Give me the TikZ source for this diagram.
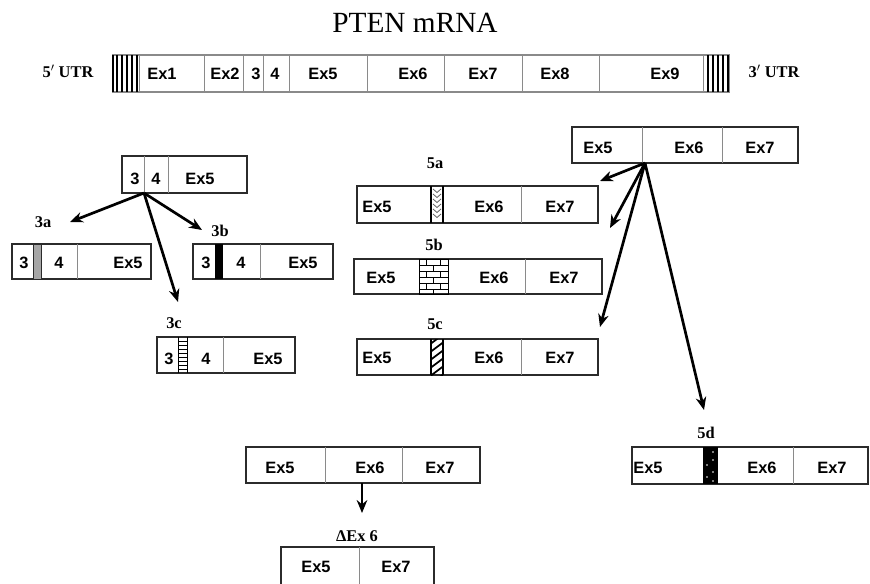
\documentclass[tikz,border=0pt]{standalone}
\usepackage{fontspec}
\setmainfont{Liberation Serif}
\setsansfont{Liberation Sans}
\usetikzlibrary{arrows.meta}
\definecolor{exline}{HTML}{2b2b2b}
\definecolor{exsep}{HTML}{8a8a8a}

\begin{document}
\begin{tikzpicture}[x=0.03cm,y=-0.03cm,
    box/.style={draw=exline,line width=1.2pt},
    sep/.style={draw=exsep,line width=0.6pt},
    ex/.style={font=\fontsize{14}{16}\selectfont\sffamily\bfseries,inner sep=0pt},
    tag/.style={font=\fontsize{14}{16}\selectfont\bfseries,inner sep=0pt},
    arr/.style={line width=2.3pt,-{Stealth[length=11pt,width=9pt]}}]
  \useasboundingbox (0,0) rectangle (870,583);

  % title
  \node[font=\fontsize{25}{28}\selectfont,anchor=base] (title) at (415,32) {PTEN mRNA};

  % whole transcript
  \node[tag] (utr5) at (68,71) {5$'$ UTR};
  \node[tag] (utr3) at (774,71) {3$'$ UTR};
  \draw[box,draw=exsep] (113,55) rectangle (729,92);
  \foreach \x in {139,204,243,263,289,367,444,522,599,703}
    \draw[sep] (\x,55) -- (\x,92);
  \foreach \x in {113,117,122,127,132,137,708,713,718,723,728}
    \draw[line width=0.9pt] (\x,55) -- (\x,92);
  \foreach \t/\x in {Ex1/162,Ex2/225,3/256,4/275,Ex5/323,Ex6/413,Ex7/483,Ex8/555,Ex9/665}
    \node[ex] (m\t) at (\x,74) {\t};

  % exon 3 variants
  \draw[box] (122,156) rectangle (247,193);
  \draw[sep] (144,156) -- (144,193) (168,156) -- (168,193);
  \node[ex] (e3) at (135,179) {3};
  \node[ex] (e4) at (156,179) {4};
  \node[ex] (e5) at (200,179) {Ex5};
  \coordinate (s3) at (144,193);

  \node[tag] (l3a) at (43,222) {3a};
  \draw[box] (12,244) rectangle (151,279);
  \draw[fill=gray!70,draw=exline,line width=0.8pt] (33,244) rectangle (41,279);
  \draw[sep] (77,244) -- (77,279);
  \node[ex] (a3) at (24,263) {3};
  \node[ex] (a4) at (59,263) {4};
  \node[ex] (a5) at (128,263) {Ex5};

  \node[tag] (l3b) at (220,231) {3b};
  \draw[box] (193,244) rectangle (333,279);
  \fill[black] (215,244) rectangle (223,279);
  \draw[sep] (260,244) -- (260,279);
  \node[ex] (b3) at (206,263) {3};
  \node[ex] (b4) at (241,263) {4};
  \node[ex] (b5) at (303,263) {Ex5};

  \node[tag] (l3c) at (174,323) {3c};
  \draw[box] (157,337) rectangle (295,373);
  \draw[line width=0.8pt] (178,337) -- (178,373) (187,337) -- (187,373);
  \foreach \y in {341,345,...,369}
    \draw[line width=0.8pt] (178,\y) -- (187,\y);
  \draw[sep] (223,337) -- (223,373);
  \node[ex] (c3) at (169,359) {3};
  \node[ex] (c4) at (206,359) {4};
  \node[ex] (c5) at (268,359) {Ex5};

  \coordinate (t3a) at (70,222);
  \coordinate (t3b) at (202,230);
  \coordinate (t3c) at (178,302);
  \draw[arr] (s3) -- (t3a);
  \draw[arr] (s3) -- (t3b);
  \draw[arr] (s3) -- (t3c);

  % exon 5 variants
  \draw[box] (572,127) rectangle (798,163);
  \draw[sep] (642,127) -- (642,163) (722,127) -- (722,163);
  \node[ex] (f5) at (598,148) {Ex5};
  \node[ex] (f6) at (689,148) {Ex6};
  \node[ex] (f7) at (760,148) {Ex7};
  \coordinate (s5) at (645,163);

  \node[tag] (l5a) at (435,163) {5a};
  \draw[box] (357,186) rectangle (598,223);
  \draw[line width=0.9pt] (431,186) -- (431,223) (443,186) -- (443,223);
  \foreach \y in {189,194,...,216}
    \draw[gray!80!black,line width=0.7pt] (433,\y) -- (437,\y+3.5) -- (441,\y);
  \draw[sep] (521,186) -- (521,223);
  \node[ex] (g5) at (377,207) {Ex5};
  \node[ex] (g6) at (489,207) {Ex6};
  \node[ex] (g7) at (560,207) {Ex7};

  \node[tag] (l5b) at (434,245) {5b};
  \draw[box] (354,259) rectangle (602,294);
  \draw[line width=0.8pt] (419,259) rectangle (448,294);
  \foreach \y in {265,271,...,289}
    \draw[line width=0.6pt] (419,\y) -- (448,\y);
  \foreach \y in {259,271,283}
    \draw[line width=0.6pt] (426,\y) -- (426,\y+6) (440,\y) -- (440,\y+6);
  \foreach \y in {265,277,289}
    \draw[line width=0.6pt] (433,\y) -- (433,{min(\y+6,294)});
  \draw[sep] (525,259) -- (525,294);
  \node[ex] (h5) at (381,278) {Ex5};
  \node[ex] (h6) at (494,278) {Ex6};
  \node[ex] (h7) at (564,278) {Ex7};

  \node[tag] (l5c) at (435,324) {5c};
  \draw[box] (357,339) rectangle (598,375);
  \begin{scope}
    \clip (431,339) rectangle (443,375);
    \foreach \y in {333,341,...,381}
      \draw[line width=1.5pt] (429,\y+12) -- (445,\y);
  \end{scope}
  \draw[line width=0.9pt] (431,339) -- (431,375) (443,339) -- (443,375);
  \draw[sep] (521,339) -- (521,375);
  \node[ex] (k5) at (377,358) {Ex5};
  \node[ex] (k6) at (489,358) {Ex6};
  \node[ex] (k7) at (560,358) {Ex7};

  \node[tag] (l5d) at (706,433) {5d};
  \draw[box] (632,447) rectangle (868,484);
  \fill[black] (703,447) rectangle (718,484);
  \foreach \p in {(713,452),(713,460),(707,465),(713,472),(707,477),(713,481)}
    \fill[white] \p circle[radius=0.9];
  \draw[sep] (793,447) -- (793,484);
  \node[ex] (d5) at (648,468) {Ex5};
  \node[ex] (d6) at (762,468) {Ex6};
  \node[ex] (d7) at (832,468) {Ex7};

  \coordinate (t5a) at (600,181);
  \coordinate (t5b) at (610,228);
  \coordinate (t5c) at (600,327);
  \coordinate (t5d) at (704,410);
  \draw[arr] (s5) -- (t5a);
  \draw[arr] (s5) -- (t5b);
  \draw[arr] (s5) -- (t5c);
  \draw[arr] (s5) -- (t5d);

  % exon 6 skipping
  \draw[box] (246,447) rectangle (480,483);
  \draw[sep] (325,447) -- (325,483) (402,447) -- (402,483);
  \node[ex] (n5) at (280,468) {Ex5};
  \node[ex] (n6) at (370,468) {Ex6};
  \node[ex] (n7) at (440,468) {Ex7};
  \coordinate (s6) at (362,483);
  \coordinate (t6) at (362,513);
  \draw[arr] (s6) -- (t6);

  \node[tag] (l6) at (357,536) {ΔEx 6};
  \draw[box] (281,584) -- (281,547) -- (434,547) -- (434,584);
  \draw[sep] (359,547) -- (359,584);
  \node[ex] (p5) at (316,567) {Ex5};
  \node[ex] (p7) at (396,567) {Ex7};
\end{tikzpicture}
\end{document}
